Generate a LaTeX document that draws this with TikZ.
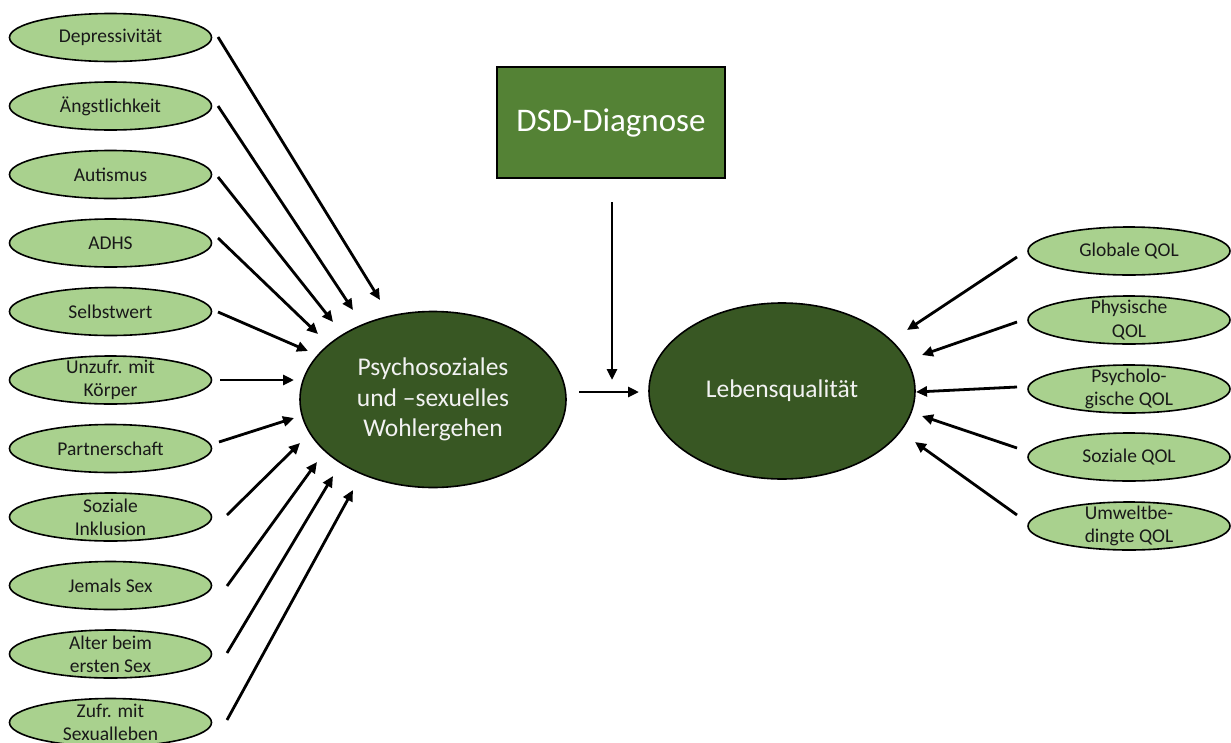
\documentclass[tikz,border=0pt]{standalone}
\usepackage{fontspec}
\setmainfont{Carlito}
\usetikzlibrary{shapes.geometric,arrows.meta}
\definecolor{lightg}{HTML}{A9D18E}
\definecolor{darkg}{HTML}{385723}
\definecolor{boxg}{HTML}{548235}
\begin{document}
\begin{tikzpicture}[x=1pt,y=-1pt,
 lell/.style={ellipse,draw=black,line width=1.6pt,fill=lightg,minimum width=202pt,minimum height=48pt,inner sep=0pt},
 stxt/.style={font=\fontsize{19.5}{23.3}\selectfont,align=center,text=black!90,inner sep=0pt},
 dell/.style={ellipse,draw=black,line width=1.6pt,fill=darkg,minimum width=266pt,minimum height=176pt,inner sep=0pt,text=white!95!black,font=\fontsize{25.5}{30.5}\selectfont,align=center},
 dbox/.style={rectangle,draw=black,line width=1.6pt,fill=boxg,minimum width=228pt,minimum height=111pt,inner sep=0pt,text=white,font=\fontsize{33}{40}\selectfont},
 arr/.style={line width=2.8pt,-{Triangle[length=11pt,width=10pt]}}]
\useasboundingbox (0,0) rectangle (1231,742);
\fill[white] (0,0) rectangle (1231,742);
% left ellipses
\node[lell,label={[stxt]center:Depressivität}] (l1) at (110.5,37.5) {};
\node[lell,label={[stxt]center:Ängstlichkeit}] (l2) at (110.5,106) {};
\node[lell,label={[stxt]center:Autismus}] (l3) at (110.5,174.5) {};
\node[lell,label={[stxt]center:ADHS}] (l4) at (110.5,243) {};
\node[lell,label={[stxt]center:Selbstwert}] (l5) at (110.5,311.5) {};
\node[lell,label={[stxt]center:{Unzufr. mit\\Körper}}] (l6) at (110.5,380) {};
\node[lell,label={[stxt]center:Partnerschaft}] (l7) at (110.5,448.5) {};
\node[lell,label={[stxt]center:{Soziale\\Inklusion}}] (l8) at (110.5,517) {};
\node[lell,label={[stxt]center:Jemals Sex}] (l9) at (110.5,585.5) {};
\node[lell,label={[stxt]center:{Alter beim\\ersten Sex}}] (l10) at (110.5,654) {};
\node[lell,label={[stxt]center:{Zufr. mit\\Sexualleben}}] (l11) at (110.5,722.5) {};
% right ellipses
\node[lell,label={[stxt]center:Globale QOL}] (r1) at (1129,251) {};
\node[lell,label={[stxt]center:{Physische\\QOL}}] (r2) at (1129,320) {};
\node[lell,label={[stxt]center:{Psycholo-\\gische QOL}}] (r3) at (1129,389) {};
\node[lell,label={[stxt]center:Soziale QOL}] (r4) at (1129,457) {};
\node[lell,label={[stxt]center:{Umweltbe-\\dingte QOL}}] (r5) at (1129,526) {};
% main nodes
\node[dell] (psy) at (433,399.5) {Psychosoziales\\und –sexuelles\\Wohlergehen};
\node[dell] (lq) at (782,391) {Lebensqualität};
\node[dbox] (dsd) at (611,122.5) {DSD-Diagnose};
% arrow end points
\coordinate (s1) at (218,37);   \coordinate (e1) at (380,300);
\coordinate (s2) at (218,106);  \coordinate (e2) at (353,310);
\coordinate (s3) at (218,177);  \coordinate (e3) at (333,322);
\coordinate (s4) at (218,238);  \coordinate (e4) at (318,334);
\coordinate (s5) at (218,312);  \coordinate (e5) at (308,351);
\coordinate (s6) at (220,380);  \coordinate (e6) at (294,380);
\coordinate (s7) at (219,442);  \coordinate (e7) at (294,418);
\coordinate (s8) at (227,515);  \coordinate (e8) at (300,443);
\coordinate (s9) at (227,586);  \coordinate (e9) at (317,462);
\coordinate (s10) at (227,653); \coordinate (e10) at (333,476);
\coordinate (s11) at (227,720); \coordinate (e11) at (353,490);
\coordinate (rs1) at (1017,257); \coordinate (re1) at (907,330);
\coordinate (rs2) at (1017,322); \coordinate (re2) at (922,355);
\coordinate (rs3) at (1017,387); \coordinate (re3) at (916,392);
\coordinate (rs4) at (1017,448); \coordinate (re4) at (922,416);
\coordinate (rs5) at (1017,515); \coordinate (re5) at (915,442);
\coordinate (ds) at (612,202); \coordinate (de) at (612,380);
\coordinate (hs) at (579,392); \coordinate (he) at (639,392);
\foreach \i in {1,...,11} {\draw[arr] (s\i) -- (e\i);}
\foreach \i in {1,...,5} {\draw[arr] (rs\i) -- (re\i);}
\draw[arr] (ds) -- (de);
\draw[arr] (hs) -- (he);
\end{tikzpicture}
\end{document}
